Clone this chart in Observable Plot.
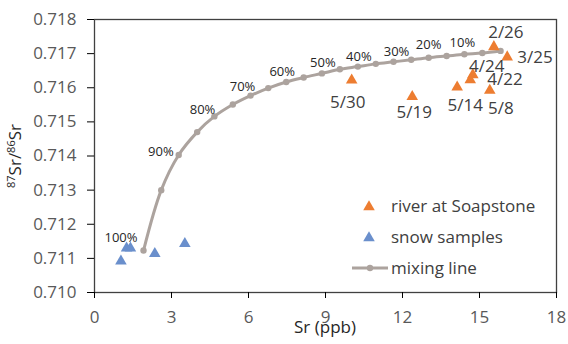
<!DOCTYPE html>
<html>
<head>
<meta charset="utf-8">
<script src="https://cdn.jsdelivr.net/npm/d3@7"></script>
<script src="https://cdn.jsdelivr.net/npm/@observablehq/plot@0.6"></script>
<style>
  html, body { margin: 0; padding: 0; background: #fff; }
  #chart { width: 568px; height: 344px; position: relative; }
  svg { font-family: "Open Sans", sans-serif; }
</style>
</head>
<body>
<div id="chart"></div>
<script>
// ---- data ----
const mixFraction = ["100%","95%","90%","85%","80%","75%","70%","65%","60%","55%","50%","45%","40%","35%","30%","25%","20%","15%","10%","5%","0%"];
const mixSr = [1.91, 2.60, 3.28, 4.00, 4.67, 5.39, 6.08, 6.77, 7.47, 8.15, 8.86, 9.56, 10.26, 10.96, 11.65, 12.34, 13.02, 13.72, 14.41, 15.11, 15.82];
const mixRatio = [0.71123, 0.71300, 0.71403, 0.71470, 0.71516, 0.71551, 0.71577, 0.71599, 0.71617, 0.71630, 0.71642, 0.71654, 0.71662, 0.71670, 0.71676, 0.71682, 0.71688, 0.71693, 0.71698, 0.71702, 0.71708];
const mixLabeled = ["100%","90%","80%","70%","60%","50%","40%","30%","20%","10%"];

const riverDates = ["2/26","3/25","4/24","4/22","5/14","5/8","5/30","5/19"];
const riverSr = [15.56, 16.08, 14.74, 14.64, 14.13, 15.40, 10.02, 12.38];
const riverRatio = [0.71720, 0.71690, 0.71638, 0.71623, 0.71602, 0.71592, 0.71622, 0.71574];

const snowSr = [1.03, 1.25, 1.40, 2.35, 3.52];
const snowRatio = [0.71092, 0.71130, 0.71130, 0.71114, 0.71143];

const xTicks = [0, 3, 6, 9, 12, 15, 18];
const yTicks = [0.710, 0.711, 0.712, 0.713, 0.714, 0.715, 0.716, 0.717, 0.718];

const legendLabels = ["river at Soapstone", "snow samples", "mixing line"];

// ---- styles ----
const ORANGE = "#ed7d31", BLUE = "#6a8fcc", GREY = "#aca39e";
const pctOffset = {
  "100%": {anchor: "end", dx: -6, dy: -13},
  "90%":  {anchor: "end", dx: -5, dy: -3},
  "80%":  {anchor: "end", dx: 1, dy: -7},
  "70%":  {anchor: "middle", dx: -8, dy: -9},
  "60%":  {anchor: "middle", dx: -4, dy: -10},
  "50%":  {anchor: "middle", dx: 1, dy: -11},
  "40%":  {anchor: "middle", dx: 1, dy: -10},
  "30%":  {anchor: "middle", dx: 3, dy: -10},
  "20%":  {anchor: "middle", dx: 0, dy: -13},
  "10%":  {anchor: "middle", dx: -2, dy: -11}
};
const dateOffset = {
  "2/26": {anchor: "middle", dx: 12, dy: -14},
  "3/25": {anchor: "start", dx: 10, dy: 1},
  "4/24": {anchor: "middle", dx: 14, dy: -8},
  "4/22": {anchor: "start", dx: 17, dy: 0},
  "5/14": {anchor: "middle", dx: 8, dy: 18},
  "5/8":  {anchor: "middle", dx: 11, dy: 18},
  "5/30": {anchor: "middle", dx: -4, dy: 22},
  "5/19": {anchor: "middle", dx: 2, dy: 16}
};

const mix = mixSr.map((x, i) => ({x, y: mixRatio[i], f: mixFraction[i]}));
const river = riverSr.map((x, i) => ({x, y: riverRatio[i], d: riverDates[i]}));
const snow = snowSr.map((x, i) => ({x, y: snowRatio[i]}));

const pctMarks = mixLabeled.map(lbl => {
  const o = pctOffset[lbl];
  return Plot.text(mix.filter(d => d.f === lbl), {
    x: "x", y: "y", text: "f", textAnchor: o.anchor, dx: o.dx, dy: o.dy,
    fontSize: 13, fill: "#262626"
  });
});
const dateMarks = riverDates.map(lbl => {
  const o = dateOffset[lbl];
  return Plot.text(river.filter(d => d.d === lbl), {
    x: "x", y: "y", text: "d", textAnchor: o.anchor, dx: o.dx, dy: o.dy,
    fontSize: 17, fill: "#404040"
  });
});

const plot = Plot.plot({
  width: 568,
  height: 344,
  marginLeft: 94,
  marginRight: 12,
  marginTop: 19,
  marginBottom: 52,
  style: {fontFamily: "'Open Sans', sans-serif", background: "#fff"},
  x: {domain: [0, 18], ticks: xTicks},
  y: {domain: [0.710, 0.718], ticks: yTicks, tickFormat: d3.format(".3f")},
  marks: [
    Plot.frame({stroke: "#404040", strokeWidth: 1.3}),
    Plot.axisX({ticks: xTicks, tickSize: 6, tickPadding: 12, fontSize: 17, color: "#595959", stroke: "#000", label: null}),
    Plot.axisY({ticks: yTicks, tickSize: 7, tickPadding: 11, fontSize: 17, color: "#595959", stroke: "#000", tickFormat: d3.format(".3f"), label: null}),
    Plot.line(mix, {x: "x", y: "y", stroke: GREY, strokeWidth: 3, curve: "catmull-rom"}),
    Plot.dot(mix, {x: "x", y: "y", r: 3.2, fill: GREY, stroke: "none"}),
    ...pctMarks,
    Plot.dot(river, {x: "x", y: "y", symbol: "triangle", r: 4.3, fill: ORANGE, stroke: "none"}),
    Plot.dot(snow, {x: "x", y: "y", symbol: "triangle", r: 4.3, fill: BLUE, stroke: "none"}),
    ...dateMarks
  ]
});

document.getElementById("chart").appendChild(plot);

// axis titles
const svg = d3.select(plot);
svg.append("text")
  .attr("x", 325).attr("y", 333)
  .attr("text-anchor", "middle")
  .attr("font-size", 17).attr("fill", "#262626")
  .text("Sr (ppb)");

const yt = svg.append("text")
  .attr("transform", "translate(21,156) rotate(-90)")
  .attr("text-anchor", "middle")
  .attr("font-size", 17).attr("fill", "#262626");
yt.append("tspan").attr("font-size", 11).attr("dy", -6).text("87");
yt.append("tspan").attr("dy", 6).text("Sr/");
yt.append("tspan").attr("font-size", 11).attr("dy", -6).text("86");
yt.append("tspan").attr("dy", 6).text("Sr");

// legend inside the plot area
const lg = svg.append("g").attr("text-anchor", "start");
const colors = [ORANGE, BLUE];
legendLabels.forEach((lbl, i) => {
  const cy = [206, 237, 268][i];
  if (i < 2) {
    lg.append("path")
      .attr("d", d3.symbol(d3.symbolTriangle, 58)())
      .attr("transform", `translate(369,${cy + 1})`)
      .attr("fill", colors[i]);
  } else {
    lg.append("line").attr("x1", 352).attr("x2", 388).attr("y1", cy).attr("y2", cy)
      .attr("stroke", GREY).attr("stroke-width", 3);
    lg.append("circle").attr("cx", 370).attr("cy", cy).attr("r", 3.2).attr("fill", GREY);
  }
  lg.append("text").attr("x", 391).attr("y", cy).attr("dy", "0.35em")
    .attr("text-anchor", "start")
    .attr("font-size", 17).attr("fill", "#404040").text(lbl);
});
</script>
</body>
</html>
